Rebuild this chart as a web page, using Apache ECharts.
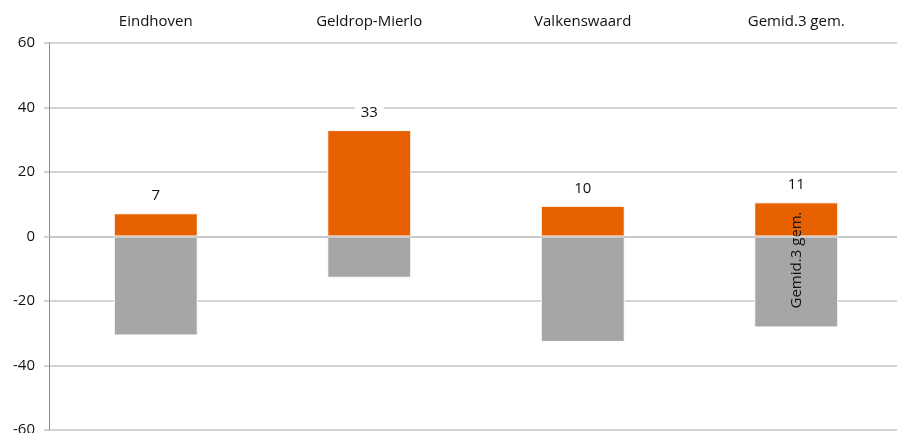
<!DOCTYPE html>
<html>
<head>
<meta charset="utf-8">
<script src="https://cdn.jsdelivr.net/npm/echarts@6/dist/echarts.min.js"></script>
<style>
  html, body { margin: 0; padding: 0; background: #fff; }
  #main { width: 897px; height: 433px; }
</style>
</head>
<body>
<div id="main"></div>
<script>
    var categories = ["Eindhoven", "Geldrop-Mierlo", "Valkenswaard", "Gemid.3 gem."];
    var positief = [7.2, 33, 9.5, 10.6];
    var negatief = [-30.7, -12.8, -32.7, -28.2];
    var yTicks = [-60, -40, -20, 0, 20, 40, 60];

    var fontFam = "'Open Sans', 'Noto Sans', sans-serif";

    // negatieve reeks, laatste balk krijgt gedraaid label
    var negData = [];
    for (var i = 0; i < negatief.length; i++) {
        var item = { value: negatief[i] };
        if (i == negatief.length - 1) {
            item.label = {
                show: true,
                position: 'inside',
                rotate: 90,
                offset: [22, 0],
                formatter: categories[i],
                color: '#111',
                fontSize: 15,
                fontFamily: fontFam
            };
        }
        negData.push(item);
    }

    var dom = document.getElementById("main");
    var myChart = echarts.init(dom);
    var option = {
        animation: false,
        grid: { left: 49, right: -6, top: 43, bottom: 3, outerBoundsMode: 'none', containLabel: false },
        xAxis: {
            type: 'category',
            position: 'top',
            data: categories,
            axisLine: { show: false },
            axisTick: { show: false },
            axisLabel: { margin: 14, color: '#111', fontSize: 15, fontFamily: fontFam }
        },
        yAxis: {
            type: 'value',
            min: yTicks[0],
            max: yTicks[yTicks.length - 1],
            interval: 20,
            axisLine: { show: true, lineStyle: { color: '#8a8a8a', width: 1 } },
            axisTick: { show: true, length: 5, lineStyle: { color: '#c6c6c6', width: 1.5 } },
            axisLabel: { margin: 14, color: '#111', fontSize: 15, fontFamily: fontFam },
            splitLine: { lineStyle: { color: '#c6c6c6', width: 1.5 } }
        },
        series: [
            {
                name: 'neg',
                type: 'bar',
                barWidth: 84,
                barGap: '-100%',
                data: negData,
                itemStyle: { color: '#a6a6a6', borderColor: '#fff', borderWidth: 1 },
                markLine: {
                    silent: true,
                    symbol: 'none',
                    label: { show: false },
                    lineStyle: { color: '#c6c6c6', width: 1.5, type: 'solid' },
                    data: [{ yAxis: 0 }]
                }
            },
            {
                name: 'pos',
                type: 'bar',
                barWidth: 84,
                data: positief,
                itemStyle: { color: '#e86100', borderColor: '#fff', borderWidth: 1 },
                label: {
                    show: true,
                    position: 'top',
                    distance: 8,
                    color: '#111',
                    fontSize: 15,
                    fontFamily: fontFam,
                    backgroundColor: '#fff',
                    padding: [2, 6],
                    formatter: function (p) { return Math.round(p.value); }
                }
            }
        ]
    };
    myChart.setOption(option, true);
</script>
</body>
</html>
